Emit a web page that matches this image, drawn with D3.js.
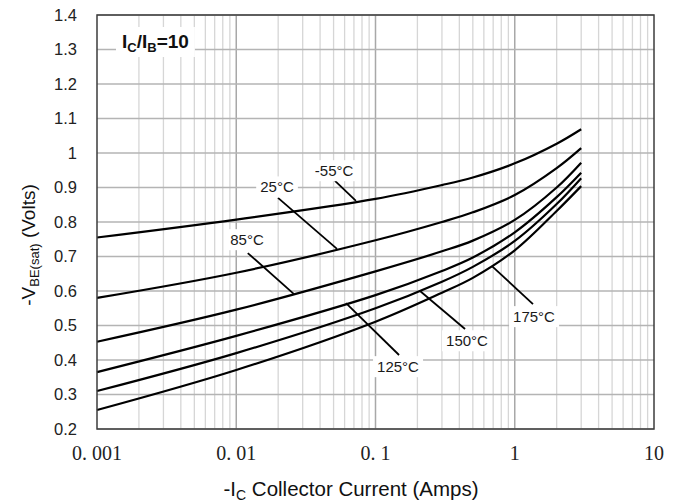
<!DOCTYPE html>
<html>
<head>
<meta charset="utf-8">
<script src="https://cdn.jsdelivr.net/npm/d3@7"></script>
<style>
  body { margin: 0; background: #fff; }
</style>
</head>
<body>
<div id="vbe_chart"></div>
<script>
// ===== -VBE(sat) vs -IC Collector Current, IC/IB = 10 =====
var currents = [0.001, 0.01, 0.1, 0.3, 0.5, 1, 2, 3];

var vbe_m55 = [0.755, 0.807, 0.867, 0.907, 0.929, 0.970, 1.027, 1.069];
var vbe_25  = [0.580, 0.653, 0.747, 0.800, 0.828, 0.878, 0.956, 1.014];
var vbe_85  = [0.453, 0.546, 0.657, 0.715, 0.746, 0.806, 0.900, 0.972];
var vbe_125 = [0.365, 0.470, 0.588, 0.658, 0.697, 0.770, 0.872, 0.943];
var vbe_150 = [0.310, 0.420, 0.550, 0.627, 0.670, 0.745, 0.852, 0.927];
var vbe_175 = [0.255, 0.371, 0.511, 0.595, 0.638, 0.718, 0.832, 0.904];

var xTicks = [0.001, 0.01, 0.1, 1, 10];
var xTickLabels = ["0. 001", "0. 01", "0. 1", "1", "10"];
var yTicks = [0.2, 0.3, 0.4, 0.5, 0.6, 0.7, 0.8, 0.9, 1, 1.1, 1.2, 1.3, 1.4];

// temperature labels (in data units: amps, volts)
var tempLabels = ["-55°C", "25°C", "85°C", "125°C", "150°C", "175°C"];
var labelAt   = [[0.0504, 0.948], [0.0196, 0.901], [0.01195, 0.748], [0.145, 0.380], [0.454, 0.455], [1.375, 0.525]];
var leaderA   = [[0.0512, 0.919], [0.01995, 0.870], [0.0121, 0.710], [0.0614, 0.565], [0.2088, 0.600], [0.686, 0.672]];
var leaderB   = [[0.0724, 0.861], [0.0529, 0.722], [0.026, 0.591], [0.1476, 0.4145], [0.4396, 0.490], [1.352, 0.562]];

function vbe_chart()
{
  var w = 684;
  var h = 504;
  var left = 97, right = 654, top = 15, bottom = 429;

  var svg = d3.select("#vbe_chart")
              .append("svg")
              .attr("width", w)
              .attr("height", h);

  var x = d3.scaleLog()
            .domain([0.001, 10])
            .range([left, right]);

  var y = d3.scaleLinear()
            .domain([0.2, 1.4])
            .range([bottom, top]);

  // minor vertical grid (2..9 of each decade)
  var minor = [];
  [0.001, 0.01, 0.1, 1].forEach(function(d) {
    for (var k = 2; k <= 9; k++) minor.push(d * k);
  });

  svg.append("g")
     .selectAll("line")
     .data(minor)
     .enter()
     .append("line")
     .attr("x1", function(d) { return x(d); })
     .attr("x2", function(d) { return x(d); })
     .attr("y1", top)
     .attr("y2", bottom)
     .attr("stroke", "#d6d6d6")
     .attr("stroke-width", 1.3);

  // major vertical grid
  svg.append("g")
     .selectAll("line")
     .data([0.01, 0.1, 1])
     .enter()
     .append("line")
     .attr("x1", function(d) { return x(d); })
     .attr("x2", function(d) { return x(d); })
     .attr("y1", top)
     .attr("y2", bottom)
     .attr("stroke", "#a8a8a8")
     .attr("stroke-width", 1.5);

  // horizontal grid
  svg.append("g")
     .selectAll("line")
     .data(yTicks)
     .enter()
     .append("line")
     .attr("x1", left)
     .attr("x2", right)
     .attr("y1", function(d) { return y(d); })
     .attr("y2", function(d) { return y(d); })
     .attr("stroke", "#b4b4b4")
     .attr("stroke-width", 1.5);

  // curves
  var line = d3.line()
               .x(function(d) { return x(d[0]); })
               .y(function(d) { return y(d[1]); })
               .curve(d3.curveCatmullRom.alpha(0.5));

  var series = [vbe_m55, vbe_25, vbe_85, vbe_125, vbe_150, vbe_175];

  svg.append("g")
     .selectAll("path")
     .data(series)
     .enter()
     .append("path")
     .attr("d", function(s) {
       return line(currents.map(function(c, i) { return [c, s[i]]; }));
     })
     .attr("fill", "none")
     .attr("stroke", "#000")
     .attr("stroke-width", 2.2);

  // leader lines
  svg.append("g")
     .selectAll("line")
     .data(tempLabels)
     .enter()
     .append("line")
     .attr("x1", function(d, i) { return x(leaderA[i][0]); })
     .attr("y1", function(d, i) { return y(leaderA[i][1]); })
     .attr("x2", function(d, i) { return x(leaderB[i][0]); })
     .attr("y2", function(d, i) { return y(leaderB[i][1]); })
     .attr("stroke", "#000")
     .attr("stroke-width", 1.8);

  // temperature labels on white boxes
  var lab = svg.append("g")
               .selectAll("g")
               .data(tempLabels)
               .enter()
               .append("g")
               .attr("transform", function(d, i) {
                 return "translate(" + x(labelAt[i][0]) + "," + y(labelAt[i][1]) + ")";
               });

  lab.append("text")
     .text(function(d) { return d; })
     .attr("text-anchor", "middle")
     .attr("dy", "0.35em")
     .attr("font-family", "Liberation Sans, Arial, sans-serif")
     .attr("font-size", "15px")
     .attr("fill", "#1a1a1a");

  lab.each(function() {
    var g = d3.select(this);
    var bb = g.select("text").node().getBBox();
    g.insert("rect", "text")
     .attr("x", bb.x - 4)
     .attr("y", bb.y - 2)
     .attr("width", bb.width + 8)
     .attr("height", bb.height + 4)
     .attr("fill", "#fff");
  });

  // IC/IB = 10 label
  var note = svg.append("g");
  var noteText = note.append("text")
                     .attr("x", 122)
                     .attr("y", 48)
                     .attr("font-family", "Liberation Sans, Arial, sans-serif")
                     .attr("font-size", "19px")
                     .attr("font-weight", "bold")
                     .attr("fill", "#111");
  noteText.append("tspan").text("I");
  noteText.append("tspan").text("C").attr("font-size", "13px").attr("dy", 4);
  noteText.append("tspan").text("/I").attr("dy", -4);
  noteText.append("tspan").text("B").attr("font-size", "13px").attr("dy", 4);
  noteText.append("tspan").text("=10").attr("dy", -4);
  var nb = noteText.node().getBBox();
  note.insert("rect", "text")
      .attr("x", nb.x - 6)
      .attr("y", nb.y - 4)
      .attr("width", nb.width + 12)
      .attr("height", nb.height + 6)
      .attr("fill", "#fff");

  // plot border
  svg.append("rect")
     .attr("x", left)
     .attr("y", top)
     .attr("width", right - left)
     .attr("height", bottom - top)
     .attr("fill", "none")
     .attr("stroke", "#3c3c3c")
     .attr("stroke-width", 1.5);

  // y tick labels
  svg.append("g")
     .selectAll("text")
     .data(yTicks)
     .enter()
     .append("text")
     .text(function(d) { return d3.format("")(d); })
     .attr("x", 77)
     .attr("y", function(d) { return y(d); })
     .attr("dy", "0.36em")
     .attr("text-anchor", "end")
     .attr("font-family", "Liberation Sans, Arial, sans-serif")
     .attr("font-size", "16.5px")
     .attr("fill", "#222");

  // x tick labels
  svg.append("g")
     .selectAll("text")
     .data(xTicks)
     .enter()
     .append("text")
     .text(function(d, i) { return xTickLabels[i]; })
     .attr("x", function(d) { return x(d); })
     .attr("y", 460)
     .attr("text-anchor", "middle")
     .attr("font-family", "Liberation Serif, Times New Roman, serif")
     .attr("font-size", "20px")
     .attr("fill", "#222");

  // x axis title
  var xt = svg.append("text")
              .attr("x", 351)
              .attr("y", 496)
              .attr("text-anchor", "middle")
              .attr("font-family", "Liberation Sans, Arial, sans-serif")
              .attr("font-size", "20.5px")
              .attr("fill", "#111");
  xt.append("tspan").text("-I");
  xt.append("tspan").text("C").attr("font-size", "14px").attr("dy", 4);
  xt.append("tspan").text(" Collector Current (Amps)").attr("dy", -4);

  // y axis title
  var yt = svg.append("text")
              .attr("transform", "translate(35,245) rotate(-90)")
              .attr("text-anchor", "middle")
              .attr("font-family", "Liberation Sans, Arial, sans-serif")
              .attr("font-size", "19px")
              .attr("fill", "#111");
  yt.append("tspan").text("-V");
  yt.append("tspan").text("BE(sat)").attr("font-size", "13px").attr("dy", 4);
  yt.append("tspan").text(" (Volts)").attr("dy", -4);
}

window.onload = vbe_chart;
</script>
</body>
</html>
